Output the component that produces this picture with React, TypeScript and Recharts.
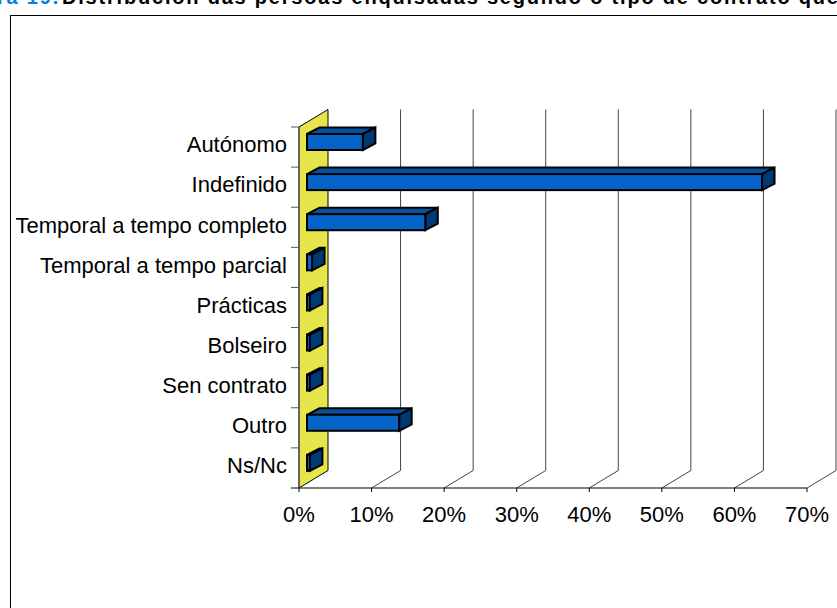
import React from 'react'
import { BarChart, Bar, XAxis, YAxis, CartesianGrid } from 'recharts'

const categories = [
  'Autónomo',
  'Indefinido',
  'Temporal a tempo completo',
  'Temporal a tempo parcial',
  'Prácticas',
  'Bolseiro',
  'Sen contrato',
  'Outro',
  'Ns/Nc',
]
const values = [7.7, 62.7, 16.3, 0.7, 0.4, 0.4, 0.4, 12.7, 0.4]
const xTicks = [0, 10, 20, 30, 40, 50, 60, 70]

const data = categories.map((name, i) => ({ name, value: values[i] }))

const FONT = '"Liberation Sans", Arial, sans-serif'
// 3D look: how far the back wall and the bars are pushed
const WALL_DX = 29
const WALL_DY = -17.5
const BAR_DX = 8
const BAR_DY = -5
const DEPTH_X = 12.5
const DEPTH_Y = -6.5

const Box3D = (props: any) => {
  const { x, y, width, height } = props
  const l = x + BAR_DX
  const t = y + BAR_DY
  const r = l + width
  const b = t + height
  const pts = (arr: number[][]) => arr.map((p) => p.join(',')).join(' ')
  return (
    <g stroke="#000" strokeWidth={2} strokeLinejoin="miter">
      <polygon
        points={pts([[l, t], [l + DEPTH_X, t + DEPTH_Y], [r + DEPTH_X, t + DEPTH_Y], [r, t]])}
        fill="#04519E"
      />
      <polygon
        points={pts([[r, t], [r + DEPTH_X, t + DEPTH_Y], [r + DEPTH_X, b + DEPTH_Y], [r, b]])}
        fill="#003A75"
      />
      <rect x={l} y={t} width={r - l} height={height} fill="#0563C8" />
    </g>
  )
}

const GridLine = (props: any) => {
  const { x1, y1, y2, index } = props
  const bx = x1 + WALL_DX
  return (
    <g>
      {index === 0 ? (
        <polygon
          points={`${x1},${y1} ${bx},${y1 + WALL_DY} ${bx},${y2 + WALL_DY} ${x1},${y2}`}
          fill="#E6E64C"
          stroke="#000"
          strokeWidth={1}
        />
      ) : (
        <polyline
          points={`${bx},${y1 + WALL_DY} ${bx},${y2 + WALL_DY} ${x1},${y2}`}
          fill="none"
          stroke="#444"
          strokeWidth={1}
        />
      )}
    </g>
  )
}

// labels sit mid-band, tick marks on the band edges
const CategoryTick = (props: any) => {
  const { x, y, payload, index } = props
  const half = payload.offset ?? 20
  return (
    <g>
      <line x1={x + 4} x2={x + 12} y1={y - half} y2={y - half} stroke="#555" />
      {index === categories.length - 1 && (
        <line x1={x + 4} x2={x + 12} y1={y + half} y2={y + half} stroke="#000" />
      )}
      <text
        x={x}
        y={y - 2.5}
        dy="0.355em"
        textAnchor="end"
        fill="#000"
        fontSize={22}
        fontFamily={FONT}
      >
        {payload.value}
      </text>
    </g>
  )
}

const titleStyle: React.CSSProperties = {
  position: 'absolute',
  top: -14,
  whiteSpace: 'nowrap',
  fontFamily: FONT,
  fontWeight: 'bold',
  fontSize: 20,
  letterSpacing: 1.8,
}

export default function App() {
  return (
    <div
      style={{
        position: 'absolute',
        left: 0,
        top: 0,
        width: 837,
        height: 608,
        overflow: 'hidden',
        background: '#fff',
      }}
    >
      <div style={{ ...titleStyle, right: 777, color: '#0080E0' }}>Figura 19.</div>
      <div style={{ ...titleStyle, left: 62, color: '#000' }}>
        Distribución das persoas enquisadas segundo o tipo de contrato que
      </div>
      <div
        style={{
          position: 'absolute',
          left: 10,
          top: 15,
          width: 900,
          height: 700,
          border: '1px solid #000',
        }}
      />
      <div style={{ position: 'absolute', left: 0, top: 0 }}>
        <BarChart
          width={837}
          height={608}
          data={data}
          layout="vertical"
          barSize={16}
          margin={{ top: 127, right: 30, bottom: 80, left: 0 }}
        >
          <CartesianGrid horizontal={false} vertical={GridLine} />
          <XAxis
            type="number"
            domain={[0, 70]}
            ticks={xTicks}
            interval={0}
            tickFormatter={(v) => `${v}%`}
            tick={{ fill: '#000', fontSize: 22, fontFamily: FONT }}
            tickLine={{ stroke: '#000' }}
            axisLine={{ stroke: '#000' }}
            tickSize={4}
            tickMargin={14}
            height={40}
          />
          <YAxis
            type="category"
            dataKey="name"
            width={299}
            interval={0}
            tick={<CategoryTick />}
            tickLine={false}
            axisLine={{ stroke: '#555' }}
            tickSize={8}
            tickMargin={4}
          />
          <Bar dataKey="value" shape={Box3D} isAnimationActive={false} />
        </BarChart>
      </div>
    </div>
  )
}
